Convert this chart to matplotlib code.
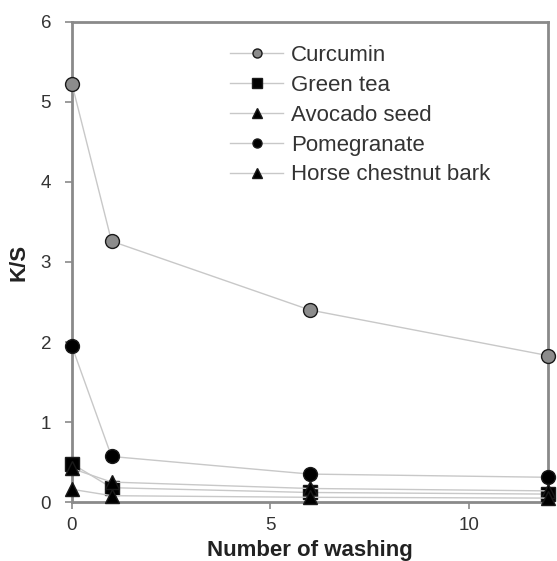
import matplotlib
matplotlib.use("Agg")
import matplotlib.pyplot as plt

plt.rcParams['font.family'] = ['Liberation Sans', 'DejaVu Sans']

washes = [0, 1, 6, 12]
curcumin = [5.23, 3.26, 2.40, 1.83]
green_tea = [0.48, 0.18, 0.12, 0.10]
avocado = [0.42, 0.25, 0.17, 0.14]
pomegranate = [1.95, 0.57, 0.35, 0.31]
horse_chestnut = [0.16, 0.08, 0.06, 0.05]

fig = plt.figure(figsize=(5.57, 5.61), dpi=100)
ax = fig.add_axes([0.129, 0.105, 0.855, 0.856])

line_c = '#c8c8c8'
series = [
    ('Curcumin', curcumin, 'o', '#8c8c8c'),
    ('Green tea', green_tea, 's', 'black'),
    ('Avocado seed', avocado, '^', 'black'),
    ('Pomegranate', pomegranate, 'o', 'black'),
    ('Horse chestnut bark', horse_chestnut, '^', 'black'),
]
for name, vals, m, fc in series:
    ax.plot(washes, vals, color=line_c, lw=1.0, marker=m, markersize=10,
            markerfacecolor=fc, markeredgecolor='#1a1a1a', markeredgewidth=1.0,
            label=name, clip_on=False, zorder=3)

ax.set_xlim(0, 12)
ax.set_ylim(0, 6)
ax.set_xticks([0, 5, 10])
ax.set_yticks([0, 1, 2, 3, 4, 5, 6])
for s in ax.spines.values():
    s.set_color('#8a8a8a')
    s.set_linewidth(2)
ax.tick_params(axis='both', direction='out', length=5, width=1.2, color='#8a8a8a',
               labelsize=13.5, labelcolor='#333333')
ax.tick_params(axis='x', pad=6)
ax.tick_params(axis='y', pad=10)
ax.set_xlabel('Number of washing', fontsize=16, fontweight='bold', color='#222222', labelpad=4)
ax.set_ylabel('K/S', fontsize=16, fontweight='bold', color='#222222', labelpad=8)

leg = ax.legend(loc='upper left', bbox_to_anchor=(0.332, 0.952), frameon=False,
                borderpad=0, borderaxespad=0,
                fontsize=16, handlelength=2.4, handletextpad=0.36, labelspacing=0.4,
                markerscale=0.65, labelcolor='#333333')
fig.savefig('out.png', dpi=100)
